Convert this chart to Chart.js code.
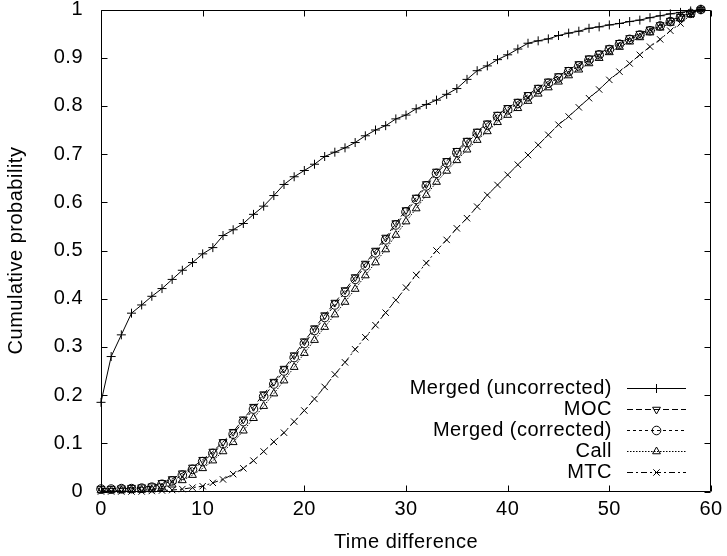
<!DOCTYPE html>
<html><head><meta charset="utf-8">
<script src="https://cdn.jsdelivr.net/npm/chart.js@4.4.0/dist/chart.umd.min.js"></script>
<style>html,body{margin:0;padding:0;background:#fff;}</style>
</head><body>
<canvas id="c" width="727" height="556"></canvas>
<script>
// ---- data ----
const timeDiff = [0,1,2,3,4,5,6,7,8,9,10,11,12,13,14,15,16,17,18,19,20,21,22,23,24,25,26,27,28,29,30,31,32,33,34,35,36,37,38,39,40,41,42,43,44,45,46,47,48,49,50,51,52,53,54,55,56,57,58,59];
const seriesLabels = ["Merged (uncorrected)", "MOC", "Merged (corrected)", "Call", "MTC"];
const mergedUncorrected = [0.185,0.28,0.325,0.37,0.387,0.405,0.421,0.44,0.459,0.475,0.493,0.506,0.531,0.543,0.556,0.575,0.592,0.614,0.637,0.653,0.666,0.679,0.695,0.704,0.713,0.724,0.738,0.75,0.759,0.773,0.781,0.794,0.803,0.812,0.824,0.836,0.855,0.873,0.883,0.896,0.906,0.918,0.93,0.935,0.939,0.946,0.951,0.955,0.961,0.964,0.968,0.971,0.975,0.978,0.983,0.987,0.991,0.994,0.997,1.0];
const moc = [0.006,0.006,0.007,0.008,0.009,0.011,0.018,0.026,0.038,0.05,0.066,0.083,0.103,0.124,0.15,0.176,0.202,0.228,0.255,0.283,0.312,0.339,0.366,0.392,0.418,0.445,0.473,0.5,0.527,0.557,0.584,0.61,0.638,0.664,0.686,0.707,0.728,0.747,0.764,0.782,0.796,0.809,0.823,0.838,0.851,0.862,0.875,0.887,0.899,0.909,0.92,0.931,0.941,0.95,0.959,0.968,0.977,0.985,0.993,1.0];
const mergedCorrected = [0.005,0.005,0.006,0.006,0.007,0.009,0.015,0.022,0.034,0.046,0.062,0.079,0.099,0.119,0.145,0.171,0.197,0.223,0.25,0.278,0.307,0.334,0.361,0.387,0.413,0.44,0.468,0.495,0.522,0.553,0.58,0.606,0.634,0.66,0.682,0.703,0.724,0.743,0.76,0.778,0.792,0.805,0.819,0.834,0.847,0.858,0.871,0.883,0.895,0.906,0.917,0.928,0.938,0.947,0.956,0.966,0.975,0.984,0.992,1.0];
const call = [0.002,0.002,0.002,0.003,0.003,0.004,0.008,0.014,0.023,0.034,0.048,0.064,0.083,0.102,0.126,0.152,0.177,0.203,0.23,0.258,0.287,0.314,0.341,0.367,0.393,0.42,0.448,0.475,0.502,0.532,0.56,0.587,0.615,0.642,0.665,0.687,0.709,0.729,0.747,0.766,0.781,0.795,0.81,0.825,0.838,0.85,0.863,0.875,0.888,0.899,0.911,0.922,0.933,0.942,0.952,0.962,0.972,0.981,0.99,1.0];
const mtc = [0,0,0,0,0,0.001,0.002,0.003,0.005,0.008,0.011,0.018,0.025,0.036,0.048,0.064,0.083,0.103,0.122,0.145,0.168,0.192,0.217,0.243,0.268,0.295,0.32,0.345,0.371,0.397,0.423,0.449,0.474,0.5,0.522,0.546,0.567,0.591,0.615,0.636,0.657,0.678,0.698,0.719,0.74,0.761,0.778,0.797,0.816,0.834,0.854,0.871,0.888,0.906,0.923,0.938,0.956,0.971,0.989,1.0];
const xTickValues = [0,10,20,30,40,50,60];
const yTickValues = [0,0.1,0.2,0.3,0.4,0.5,0.6,0.7,0.8,0.9,1];

// ---- styles ----
const FONT = {family: "'Liberation Sans', Arial, sans-serif", size: 20};
const styles = [
  {pointStyle:'cross', rotation:0, radius:4.5, dash:[]},
  {pointStyle:'triangle', rotation:180, radius:4.5, dash:[6,3]},
  {pointStyle:'circle', rotation:0, radius:4.3, dash:[3,3]},
  {pointStyle:'triangle', rotation:0, radius:4.5, dash:[1.5,1.5]},
  {pointStyle:'crossRot', rotation:0, radius:4.5, dash:[6,3,2,3]}
];
const allSeries = [mergedUncorrected, moc, mergedCorrected, call, mtc];

const datasets = allSeries.map((arr, i) => ({
  label: seriesLabels[i],
  data: timeDiff.map((x, j) => ({x: x, y: arr[j]})),
  borderColor: '#000',
  backgroundColor: 'rgba(0,0,0,0)',
  borderWidth: 1,
  borderDash: styles[i].dash,
  pointStyle: styles[i].pointStyle,
  rotation: styles[i].rotation,
  pointRadius: styles[i].radius,
  pointBorderColor: '#000',
  pointBackgroundColor: 'rgba(0,0,0,0)',
  pointBorderWidth: 1,
  tension: 0,
  fill: false,
  clip: false
}));

const frameTicks = {
  id: 'frameTicks',
  beforeInit(chart) { try { chart.ctx.letterSpacing = '0.5px'; } catch (e) {} },
  beforeDraw(chart) { try { chart.ctx.letterSpacing = '0.5px'; } catch (e) {} },
  beforeDatasetsDraw(chart) {
    const {ctx, chartArea: a, scales} = chart;
    ctx.save();
    ctx.strokeStyle = '#000';
    ctx.lineWidth = 1;
    ctx.setLineDash([]);
    ctx.beginPath();
    const L = Math.round(a.left)+0.5, R = Math.round(a.right)-0.5, T = Math.round(a.top)+0.5, B = Math.round(a.bottom)-0.5;
    ctx.rect(L, T, R-L, B-T);
    const tl = 6;
    xTickValues.forEach(v => {
      const px = Math.round(scales.x.getPixelForValue(v)) + 0.5;
      ctx.moveTo(px, B); ctx.lineTo(px, B - tl);
      ctx.moveTo(px, T); ctx.lineTo(px, T + tl);
    });
    yTickValues.forEach(v => {
      const py = Math.round(scales.y.getPixelForValue(v)) + 0.5;
      ctx.moveTo(L, py); ctx.lineTo(L + tl, py);
      ctx.moveTo(R, py); ctx.lineTo(R - tl, py);
    });
    ctx.stroke();
    ctx.restore();
  },
  afterDraw(chart) {
    const {ctx, chartArea: a} = chart;
    ctx.save();
    ctx.font = FONT.size + "px " + FONT.family;
    ctx.textAlign = 'right';
    ctx.textBaseline = 'middle';
    ctx.fillStyle = '#000';
    const textRight = a.right - 99;
    const lineStart = a.right - 84, lineEnd = a.right - 25;
    chart.data.datasets.forEach((ds, i) => {
      const y = a.bottom - 103.5 + i * 21;
      ctx.fillStyle = '#000';
      ctx.fillText(ds.label, textRight, y);
      ctx.strokeStyle = '#000';
      ctx.lineWidth = 1;
      ctx.setLineDash(ds.borderDash);
      ctx.beginPath();
      ctx.moveTo(lineStart, Math.round(y)+0.5);
      ctx.lineTo(lineEnd, Math.round(y)+0.5);
      ctx.stroke();
      ctx.setLineDash([]);
      ctx.fillStyle = 'rgba(0,0,0,0)';
      Chart.helpers.drawPoint(ctx, {pointStyle: ds.pointStyle, rotation: ds.rotation, radius: ds.pointRadius, borderWidth: 1}, (lineStart+lineEnd)/2, Math.round(y)+0.5);
    });
    ctx.restore();
  }
};

new Chart(document.getElementById('c'), {
  type: 'line',
  data: {datasets},
  options: {
    responsive: false,
    animation: false,
    devicePixelRatio: 1,
    layout: {padding: {top: 9.5, right: 16, left: 0, bottom: 0}},
    plugins: {legend: {display: false}, tooltip: {enabled: false}},
    scales: {
      x: {
        type: 'linear', min: 0, max: 60,
        afterBuildTicks: s => { s.ticks = xTickValues.map(v => ({value: v})); },
        afterFit: s => { s.height = 64.5; s.paddingLeft = 0; s.paddingRight = 0; },
        grid: {display: false, drawTicks: false},
        border: {display: false},
        ticks: {color: '#000', font: FONT, padding: 5.5, maxRotation: 0, callback: v => String(v)},
        title: {display: true, text: 'Time difference', color: '#000', font: FONT, padding: {top: 0, bottom: 1.4}}
      },
      y: {
        type: 'linear', min: 0, max: 1,
        afterBuildTicks: s => { s.ticks = yTickValues.map(v => ({value: v})); },
        afterFit: s => { s.width = 101; s.paddingTop = 0; s.paddingBottom = 0; },
        grid: {display: false, drawTicks: false},
        border: {display: false},
        ticks: {color: '#000', font: FONT, padding: 18, callback: v => String(+(+v).toFixed(1))},
        title: {display: true, text: 'Cumulative probability', color: '#000', font: FONT, padding: {top: 4.6, bottom: 0}}
      }
    }
  },
  plugins: [frameTicks]
});
</script>
</body></html>
